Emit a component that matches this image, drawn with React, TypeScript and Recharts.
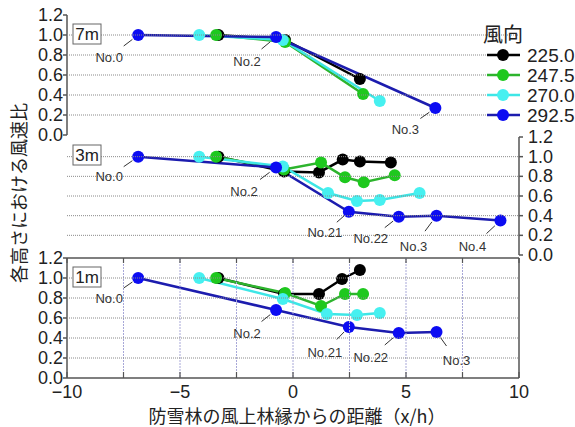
import React from 'react'
import { LabelList, Line, LineChart, XAxis, YAxis } from 'recharts'

// 風向 (wind directions)
const directions = ['225.0', '247.5', '270.0', '292.5']

const xTicks = [-10, -7.5, -5, -2.5, 0, 2.5, 5, 7.5, 10]
const yTicks = [0, 0.2, 0.4, 0.6, 0.8, 1.0, 1.2]

// 7m
const x7m = [
  [-3.3, -0.35, 2.96],
  [-3.4, -0.35, 3.1],
  [-4.15, -0.45, 3.84],
  [-6.85, -0.75, 6.3],
]
const y7m = [
  [1.0, 0.95, 0.56],
  [1.0, 0.93, 0.41],
  [1.0, 0.95, 0.34],
  [1.0, 0.98, 0.27],
]
const stations7m = ['No.0', 'No.2', 'No.3']

// 3m
const x3m = [
  [-3.3, -0.4, 1.15, 2.2, 2.96, 4.33],
  [-3.4, -0.4, 1.24, 2.3, 3.13, 4.5],
  [-4.15, -0.45, 1.55, 2.83, 3.84, 5.6],
  [-6.85, -0.75, 2.47, 4.68, 6.35, 9.18],
]
const y3m = [
  [1.0, 0.85, 0.84, 0.97, 0.95, 0.94],
  [1.0, 0.87, 0.94, 0.79, 0.74, 0.81],
  [1.0, 0.9, 0.63, 0.55, 0.56, 0.63],
  [1.0, 0.89, 0.44, 0.39, 0.4, 0.35],
]
const stations3m = ['No.0', 'No.2', 'No.21', 'No.22', 'No.3', 'No.4']

// 1m
const x1m = [
  [-3.3, -0.4, 1.15, 2.17, 2.96],
  [-3.4, -0.35, 1.24, 2.3, 3.1],
  [-4.15, -0.45, 1.5, 2.83, 3.84],
  [-6.85, -0.75, 2.47, 4.68, 6.35],
]
const y1m = [
  [1.0, 0.84, 0.84, 0.99, 1.08],
  [1.0, 0.85, 0.72, 0.84, 0.84],
  [1.0, 0.79, 0.64, 0.63, 0.65],
  [1.0, 0.68, 0.51, 0.45, 0.46],
]
const stations1m = ['No.0', 'No.2', 'No.21', 'No.22', 'No.3']

const LINE = ['#000000', '#2db42d', '#3ee6e6', '#1c1cae']
const DOT = ['#000000', '#1ec81e', '#46f0f0', '#0c0cf2']
const FONT = '"Liberation Sans", Arial, sans-serif'
const JP = '"Noto Sans CJK JP", sans-serif'
const W = 575
const PLOT_L = 67
const PLOT_R = 519
const FRAME = '#555'

// where each station label sits relative to its point
const LABEL_OFFSETS: Record<string, Record<string, [number, number]>> = {
  '7m': { 'No.0': [-29, 22], 'No.2': [-29, 24], 'No.3': [-30, 21] },
  '3m': {
    'No.0': [-29, 20],
    'No.2': [-32, 24],
    'No.21': [-24, 21],
    'No.22': [-28, 22],
    'No.3': [-23, 31],
    'No.4': [-28, 26],
  },
  '1m': {
    'No.0': [-29, 20],
    'No.2': [-29, 23],
    'No.21': [-24, 25],
    'No.22': [-28, 24],
    'No.3': [20, 28],
  },
}

function stationLabel(props: any, offsets: Record<string, [number, number]>) {
  const { x, y, value } = props
  if (!value) return null
  const [dx, dy] = offsets[value] ?? [-28, 22]
  return (
    <g>
      <line
        x1={x + dx * 0.2}
        y1={y + dy * 0.2}
        x2={x + dx * 0.5}
        y2={y + dy * 0.5}
        stroke="#333"
        strokeWidth={1}
      />
      <text
        x={x + dx}
        y={y + dy}
        textAnchor="middle"
        dominantBaseline="central"
        fontSize={13}
        fill="#333"
        fontFamily={FONT}
      >
        {value}
      </text>
    </g>
  )
}

function fmtX(v: number) {
  if (v % 5 !== 0) return ''
  return v < 0 ? '\u2212' + Math.abs(v) : String(v)
}

// x tick: dotted vertical grid line, inward tick marks, panel frame, optional label
function makeXTick(plotTop: number, plotBottom: number, other: 'left' | 'right', labels: boolean) {
  return (props: any) => {
    const { x, payload } = props
    const v = payload.value
    const inner = v > -10 && v < 10
    const bx = other === 'left' ? PLOT_L : PLOT_R
    return (
      <g>
        {inner && (
          <line
            x1={x}
            y1={plotTop}
            x2={x}
            y2={plotBottom}
            stroke="#a8a8d8"
            strokeDasharray="2 1"
          />
        )}
        <line x1={x} y1={plotTop} x2={x} y2={plotTop + 5} stroke={FRAME} strokeWidth={1.2} />
        <line x1={x} y1={plotBottom - 6} x2={x} y2={plotBottom} stroke={FRAME} strokeWidth={1.2} />
        {v === -10 && (
          <g>
            <line x1={PLOT_L} y1={plotTop} x2={PLOT_R} y2={plotTop} stroke={FRAME} strokeWidth={1.5} />
            <line x1={bx} y1={plotTop} x2={bx} y2={plotBottom} stroke={FRAME} strokeWidth={1.5} />
          </g>
        )}
        {labels && (
          <text
            x={x}
            y={plotBottom + 20}
            textAnchor="middle"
            fontSize={18}
            fill="#222"
            fontFamily={FONT}
          >
            {fmtX(v)}
          </text>
        )}
      </g>
    )
  }
}

// y tick: label + dotted horizontal grid line
function gridYTick(side: 'left' | 'right') {
  return (props: any) => {
    const { x, y, payload } = props
    const v = payload.value
    const inner = v > 0.01 && v < 1.19
    return (
      <g>
        {inner && (
          <line
            x1={PLOT_L}
            y1={y}
            x2={PLOT_R}
            y2={y}
            stroke="#8a8a8a"
            strokeDasharray="1 1"
          />
        )}
        <text
          x={x}
          y={y}
          textAnchor={side === 'left' ? 'end' : 'start'}
          dominantBaseline="central"
          fontSize={18}
          fill="#222"
          fontFamily={FONT}
        >
          {v.toFixed(1)}
        </text>
      </g>
    )
  }
}

type PanelProps = {
  tag: string
  xs: number[][]
  ys: number[][]
  stations: string[]
  top: number
  height: number
  margin: { top: number; right: number; bottom: number; left: number }
  side: 'left' | 'right'
  labelsX: boolean
}

function Panel({ tag, xs, ys, stations, top, height, margin, side, labelsX }: PanelProps) {
  const series = xs.map((xr, i) =>
    xr.map((x, j) => ({ x, y: ys[i][j], name: i === 3 ? stations[j] : '' })),
  )
  const offsets = LABEL_OFFSETS[tag]
  const other = side === 'left' ? 'right' : 'left'
  const xAxisHeight = labelsX ? 49 : 0
  const plotTop = margin.top
  const plotBottom = height - margin.bottom - xAxisHeight
  return (
    <div style={{ position: 'absolute', left: 0, top, width: W, height }}>
      <LineChart width={W} height={height} margin={margin}>
        <XAxis
          type="number"
          dataKey="x"
          domain={[-10, 10]}
          ticks={xTicks}
          interval={0}
          height={xAxisHeight}
          tickLine={false}
          tickSize={8}
          tickMargin={0}
          tick={makeXTick(plotTop, plotBottom, other, labelsX)}
          stroke={FRAME}
          strokeWidth={1.5}
        />
        <YAxis
          orientation={side}
          domain={[0, 1.2]}
          ticks={yTicks}
          interval={0}
          width={side === 'left' ? 67 : 40}
          tickSize={4}
          tickMargin={side === 'left' ? 0 : 5}
          tick={gridYTick(side)}
          stroke={FRAME}
          strokeWidth={1.5}
        />
        {series.map((data, i) => (
          <Line
            key={directions[i]}
            data={data}
            dataKey="y"
            type="linear"
            stroke={LINE[i]}
            strokeWidth={2.5}
            dot={{ r: 6, fill: DOT[i], stroke: DOT[i], strokeWidth: 0 }}
            activeDot={false}
            isAnimationActive={false}
          >
            {i === 3 && (
              <LabelList dataKey="name" content={(p: any) => stationLabel(p, offsets)} />
            )}
          </Line>
        ))}
      </LineChart>
    </div>
  )
}

function Tag({ text, y }: { text: string; y: number }) {
  return (
    <g>
      <rect x={73} y={y} width={28} height={20} fill="#fff" stroke="#666" strokeWidth={1} />
      <text
        x={87}
        y={y + 10}
        textAnchor="middle"
        dominantBaseline="central"
        fontSize={17}
        fill="#222"
        fontFamily={FONT}
      >
        {text}
      </text>
    </g>
  )
}

function Overlay() {
  return (
    <svg
      width={W}
      height={427}
      style={{ position: 'absolute', left: 0, top: 0, pointerEvents: 'none' }}
    >
      <text
        x={18}
        y={193}
        transform="rotate(-90, 18, 193)"
        textAnchor="middle"
        dominantBaseline="central"
        fontSize={18}
        fill="#222"
        fontFamily={JP}
      >
        各高さにおける風速比
      </text>
      <text
        x={297}
        y={415}
        textAnchor="middle"
        dominantBaseline="central"
        fontSize={18}
        fill="#222"
        fontFamily={JP}
      >
        防雪林の風上林縁からの距離（x/h）
      </text>
      <Tag text="7m" y={24} />
      <Tag text="3m" y={145} />
      <Tag text="1m" y={267} />
      <text
        x={503}
        y={33}
        textAnchor="middle"
        dominantBaseline="central"
        fontSize={20}
        fill="#222"
        fontFamily={JP}
      >
        風向
      </text>
      {directions.map((d, i) => {
        const y = 55 + i * 20
        return (
          <g key={d}>
            <line x1={487} y1={y} x2={520} y2={y} stroke={LINE[i]} strokeWidth={2.5} />
            <circle cx={503} cy={y} r={6} fill={DOT[i]} />
            <text
              x={527}
              y={y}
              dominantBaseline="central"
              fontSize={19}
              fill="#222"
              fontFamily={FONT}
            >
              {d}
            </text>
          </g>
        )
      })}
    </svg>
  )
}

export default function App() {
  return (
    <div style={{ position: 'absolute', left: 0, top: 0, width: W, height: 427, background: '#fff' }}>
      <Panel
        tag="7m"
        xs={x7m}
        ys={y7m}
        stations={stations7m}
        top={0}
        height={145}
        margin={{ top: 15, right: 56, bottom: 10, left: 0 }}
        side="left"
        labelsX={false}
      />
      <Panel
        tag="3m"
        xs={x3m}
        ys={y3m}
        stations={stations3m}
        top={125}
        height={145}
        margin={{ top: 12, right: 16, bottom: 15, left: 67 }}
        side="right"
        labelsX={false}
      />
      <Panel
        tag="1m"
        xs={x1m}
        ys={y1m}
        stations={stations1m}
        top={245}
        height={182}
        margin={{ top: 13, right: 56, bottom: 0, left: 0 }}
        side="left"
        labelsX={true}
      />
      <Overlay />
    </div>
  )
}
